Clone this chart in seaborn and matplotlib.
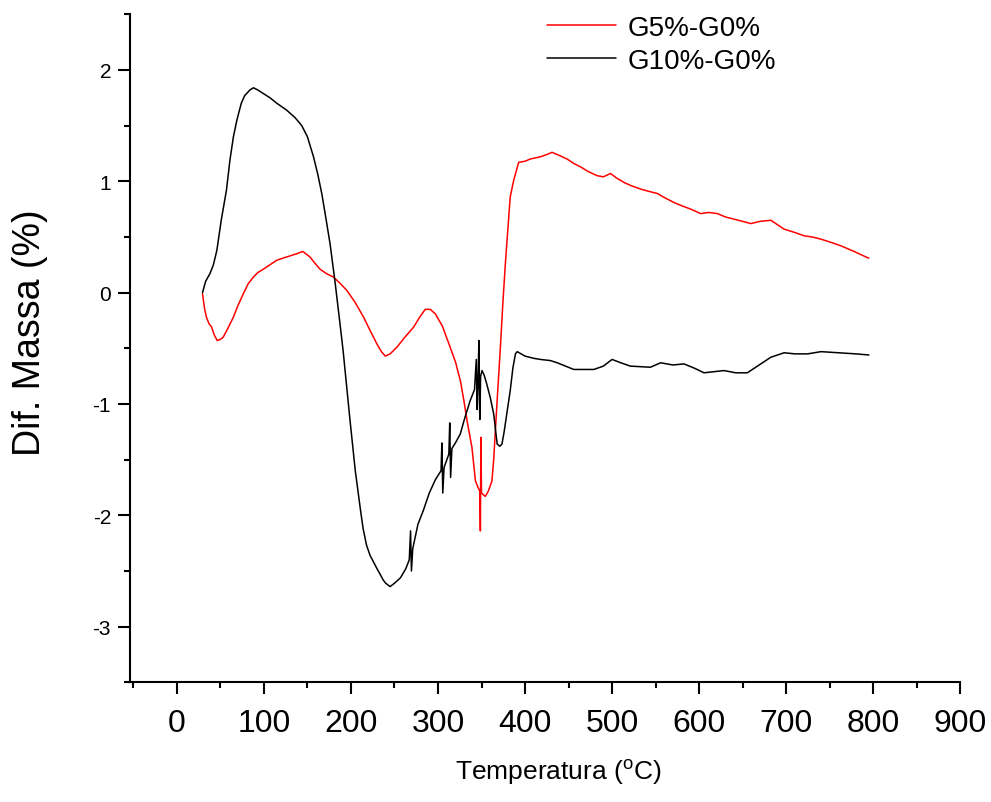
import numpy as np
import pandas as pd
import seaborn as sns
import matplotlib.pyplot as plt
from matplotlib.ticker import MultipleLocator

# G10%-G0% (black)
temp_g10 = [29.5, 33, 38, 42, 46, 51, 57, 61, 65, 69, 74, 78, 84, 88, 93, 99, 107, 115, 126, 136,
            143.5, 150, 157, 162, 166.5, 171, 176, 182, 187, 191, 199, 205, 210.6, 214, 218, 222,
            226, 230, 233.6, 237, 240, 245, 250, 257, 263, 267, 268.5, 269.5, 271, 277, 283, 290,
            297, 303.5, 304.5, 305.5, 307, 312.5, 313.5, 314.5, 316, 320, 325.6, 331, 337, 342, 344,
            345, 346, 347, 348, 349, 350.6, 353, 356, 360, 364, 368, 371, 373.5, 376, 379, 383, 386,
            389, 391, 400, 410, 417.7, 429, 437, 456, 479, 490, 500, 510, 521, 544, 555.8, 570,
            582.6, 595, 605.6, 617, 628.6, 642, 655.4, 667, 682.4, 697.7, 710, 724.6, 740, 760, 780,
            795]
mass_g10 = [0.0, 0.1, 0.17, 0.25, 0.38, 0.65, 0.92, 1.19, 1.4, 1.55, 1.7, 1.77, 1.82, 1.84, 1.82, 1.79,
            1.75, 1.70, 1.64, 1.57, 1.50, 1.4, 1.22, 1.06, 0.89, 0.68, 0.44, 0.08, -0.25, -0.52, -1.15,
            -1.6, -1.93, -2.12, -2.27, -2.36, -2.42, -2.48, -2.53, -2.58, -2.61, -2.64, -2.61, -2.56,
            -2.48, -2.4, -2.14, -2.5, -2.3, -2.08, -1.96, -1.8, -1.68, -1.6, -1.35, -1.8, -1.57,
            -1.45, -1.17, -1.66, -1.4, -1.35, -1.27, -1.12, -0.97, -0.87, -0.6, -1.05, -0.8, -0.43,
            -1.14, -0.75, -0.70, -0.74, -0.82, -0.94, -1.09, -1.36, -1.38, -1.36, -1.25, -1.09,
            -0.88, -0.68, -0.55, -0.53, -0.57, -0.59, -0.60, -0.61, -0.63, -0.69, -0.69, -0.66,
            -0.60, -0.63, -0.66, -0.67, -0.63, -0.65, -0.64, -0.68, -0.72, -0.71, -0.70, -0.72,
            -0.72, -0.66, -0.58, -0.54, -0.55, -0.55, -0.53, -0.54, -0.55, -0.56]

# G5%-G0% (red)
temp_g5 = [29.5, 32, 34, 37, 40, 43, 46.4, 50, 53.3, 58, 65, 70, 76.4, 82, 88, 93, 99.3, 107, 114.6,
           122, 130, 138, 144.6, 148, 153, 158, 164.6, 172, 180, 188, 195.3, 205, 214.5, 222, 229.8,
           235, 239.4, 245, 252.8, 262, 272, 279, 285.4, 291, 296.9, 305, 314, 320, 325.7, 330,
           333.4, 339, 343, 346, 348, 348.7, 349.3, 350, 354.4, 358, 362, 364, 365.9, 368.5, 371.7,
           374.5, 377.4, 383, 387, 392.7, 400, 406, 417.7, 425, 431, 440, 448.3, 456, 463.7, 472,
           482.9, 490, 498.3, 505, 513.6, 522, 532.8, 542, 552, 561, 571, 580, 590.3, 601.8, 611,
           621, 630, 640, 650, 659.4, 670, 682.4, 690, 697.7, 710, 720.7, 730, 740, 752, 763, 778,
           791.7, 795]
mass_g5 = [-0.01, -0.15, -0.22, -0.28, -0.31, -0.38, -0.43, -0.42, -0.40, -0.33, -0.22, -0.12, -0.01,
           0.08, 0.14, 0.18, 0.21, 0.25, 0.29, 0.31, 0.33, 0.35, 0.37, 0.35, 0.32, 0.27, 0.21, 0.17,
           0.14, 0.08, 0.02, -0.09, -0.22, -0.34, -0.46, -0.53, -0.57, -0.55, -0.49, -0.4, -0.31,
           -0.22, -0.15, -0.15, -0.19, -0.3, -0.49, -0.62, -0.79, -0.98, -1.15, -1.39, -1.69, -1.75,
           -1.78, -2.14, -1.30, -1.8, -1.83, -1.78, -1.69, -1.5, -1.24, -0.9, -0.49, -0.1, 0.26,
           0.86, 1.01, 1.17, 1.18, 1.20, 1.22, 1.24, 1.26, 1.23, 1.20, 1.16, 1.13, 1.09, 1.05, 1.04,
           1.07, 1.03, 0.99, 0.96, 0.93, 0.91, 0.89, 0.85, 0.81, 0.78, 0.75, 0.71, 0.72, 0.71, 0.68,
           0.66, 0.64, 0.62, 0.64, 0.65, 0.61, 0.57, 0.54, 0.51, 0.5, 0.48, 0.45, 0.42, 0.37, 0.32,
           0.31]

labels = ['G5%-G0%', 'G10%-G0%']
colors = ['#ff0000', '#000000']

df = pd.concat([
    pd.DataFrame({'T': temp_g5, 'dm': mass_g5, 'serie': labels[0]}),
    pd.DataFrame({'T': temp_g10, 'dm': mass_g10, 'serie': labels[1]}),
], ignore_index=True)

sns.set_style('ticks')
plt.rcParams['font.family'] = ['Liberation Sans', 'DejaVu Sans']
plt.rcParams['mathtext.fontset'] = 'custom'
plt.rcParams['mathtext.rm'] = 'Liberation Sans'
plt.rcParams['axes.unicode_minus'] = False
plt.rcParams['text.color'] = 'black'
plt.rcParams['axes.labelcolor'] = 'black'
plt.rcParams['xtick.color'] = 'black'
plt.rcParams['ytick.color'] = 'black'

fig, ax = plt.subplots(figsize=(9.91, 8.03), dpi=100)
fig.subplots_adjust(left=0.131, right=0.969, top=0.981, bottom=0.149)

sns.lineplot(data=df, x='T', y='dm', hue='serie', hue_order=labels,
             palette=dict(zip(labels, colors)), estimator=None, sort=False,
             linewidth=1.1, ax=ax)

ax.set_xlim(-54, 900)
ax.set_ylim(-3.5, 2.5)
ax.xaxis.set_major_locator(MultipleLocator(100))
ax.xaxis.set_minor_locator(MultipleLocator(50))
ax.yaxis.set_major_locator(MultipleLocator(1))
ax.yaxis.set_minor_locator(MultipleLocator(0.5))
ax.tick_params(which='major', length=8.5, width=1.5, color='black')
ax.tick_params(which='minor', length=4.3, width=1.5, color='black')
ax.tick_params(axis='x', which='major', labelsize=23, pad=10, labelcolor='black')
ax.tick_params(axis='y', which='major', labelsize=15, pad=5, labelcolor='black')
for side in ['left', 'bottom']:
    ax.spines[side].set_linewidth(1.5)
    ax.spines[side].set_color('black')
sns.despine(ax=ax)

ax.set_xlabel(r'Temperatura ($^{\mathrm{o}}$C)', fontsize=19, color='black')
ax.set_ylabel('Dif. Massa (%)', fontsize=27, color='black')
ax.xaxis.set_label_coords(0.516, -0.11)
ax.yaxis.set_label_coords(-0.098, 0.525)

leg = ax.legend(loc='upper left', bbox_to_anchor=(547 / 991, 1 - 16 / 803),
                bbox_transform=fig.transFigure, frameon=False, fontsize=20,
                handlelength=2.5, handletextpad=0.4, labelspacing=0.25,
                borderpad=0, borderaxespad=0)
for txt in leg.get_texts():
    txt.set_color('black')

fig.savefig('out.png', dpi=100)
